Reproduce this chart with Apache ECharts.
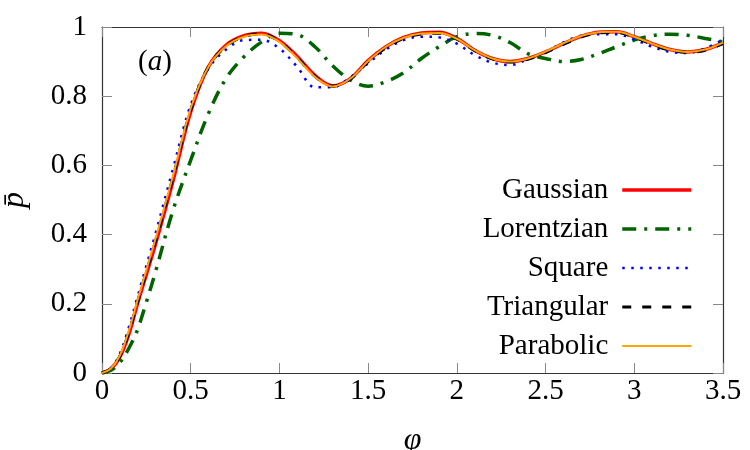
<!DOCTYPE html>
<html>
<head>
<meta charset="utf-8">
<script src="https://cdn.jsdelivr.net/npm/echarts@6/dist/echarts.min.js"></script>
<style>
  html, body { margin: 0; padding: 0; background: #fff; }
  #chart { width: 750px; height: 450px; }
</style>
</head>
<body>
<div id="chart"></div>
<script>
// phi grid (finer near the start, then step 0.1)
const phi = [0, 0.05, 0.1, 0.15, 0.2, 0.25, 0.3, 0.4, 0.5, 0.6, 0.7, 0.8, 0.9, 1.0, 1.1, 1.2, 1.3, 1.4,
  1.5, 1.6, 1.7, 1.8, 1.9, 2.0, 2.1, 2.2, 2.3, 2.4, 2.5, 2.6, 2.7, 2.8, 2.9, 3.0, 3.1, 3.2, 3.3,
  3.4, 3.5];

const gaussian = [0, 0.012, 0.045, 0.11, 0.2, 0.285, 0.37, 0.555, 0.755, 0.885, 0.948, 0.975, 0.982,
  0.96, 0.915, 0.86, 0.83, 0.851, 0.903, 0.943, 0.97, 0.983, 0.985, 0.967, 0.933, 0.909, 0.9, 0.909,
  0.928, 0.952, 0.973, 0.985, 0.986, 0.972, 0.952, 0.935, 0.928, 0.935, 0.954];

const lorentzian = [0, 0.008, 0.03, 0.07, 0.125, 0.205, 0.29, 0.47, 0.615, 0.75, 0.852, 0.914, 0.957,
  0.982, 0.978, 0.943, 0.888, 0.847, 0.829, 0.842, 0.868, 0.909, 0.943, 0.972, 0.981, 0.976, 0.955,
  0.923, 0.909, 0.9, 0.906, 0.923, 0.943, 0.962, 0.975, 0.979, 0.976, 0.967, 0.957];

const square = [0, 0.014, 0.055, 0.13, 0.22, 0.31, 0.4, 0.59, 0.775, 0.88, 0.935, 0.962, 0.963, 0.938,
  0.885, 0.826, 0.826, 0.855, 0.895, 0.935, 0.962, 0.972, 0.97, 0.952, 0.919, 0.897, 0.89, 0.907,
  0.928, 0.955, 0.975, 0.979, 0.979, 0.964, 0.943, 0.928, 0.925, 0.938, 0.964];

const triangular = [0, 0.013, 0.048, 0.115, 0.205, 0.292, 0.378, 0.565, 0.76, 0.885, 0.945, 0.972,
  0.98, 0.958, 0.912, 0.858, 0.829, 0.85, 0.9, 0.94, 0.967, 0.98, 0.982, 0.965, 0.932, 0.908, 0.899,
  0.907, 0.926, 0.95, 0.971, 0.983, 0.984, 0.97, 0.95, 0.933, 0.927, 0.933, 0.952];

const parabolic = [0, 0.013, 0.05, 0.12, 0.21, 0.298, 0.385, 0.57, 0.765, 0.885, 0.945, 0.972, 0.978,
  0.957, 0.91, 0.856, 0.828, 0.851, 0.902, 0.943, 0.969, 0.981, 0.983, 0.966, 0.933, 0.909, 0.9,
  0.909, 0.929, 0.953, 0.974, 0.985, 0.986, 0.972, 0.952, 0.935, 0.928, 0.935, 0.955];

const names = ["Gaussian", "Lorentzian", "Square", "Triangular", "Parabolic"];
const widths = [3.5, 3.5, 2.5, 3, 2];

const serif = "Liberation Serif";
const chart = echarts.init(document.getElementById("chart"), null, { renderer: "canvas" });

function pairs(arr) {
  return phi.map((x, i) => [x, arr[i]]);
}

function mkLine(idx, arr, color, type) {
  return {
    name: names[idx],
    type: "line",
    data: pairs(arr),
    symbol: "none",
    showSymbol: false,
    smooth: 0.35,
    lineStyle: { color: color, width: widths[idx], type: type },
    itemStyle: { color: color },
    emphasis: { disabled: true },
  };
}

const tickStyle = { show: true, inside: true, length: 10, lineStyle: { color: "#888", width: 1 } };
const lineStyle = { show: true, onZero: false, lineStyle: { color: "#333", width: 1.2 } };

const option = {
  animation: false,
  backgroundColor: "#fff",
  grid: { left: 102, right: 27, top: 27, bottom: 77, containLabel: false, outerBoundsMode: "none" },
  xAxis: [
    {
      type: "value",
      position: "bottom",
      min: 0,
      max: 3.5,
      interval: 0.5,
      axisLine: lineStyle,
      axisTick: tickStyle,
      splitLine: { show: false },
      axisLabel: { fontFamily: serif, fontSize: 29, color: "#000", margin: 4 },
      name: "\u03c6",
      nameLocation: "middle",
      nameGap: 52,
      nameTextStyle: { fontFamily: serif, fontStyle: "italic", fontSize: 32, color: "#000" },
    },
    {
      type: "value",
      position: "top",
      min: 0,
      max: 3.5,
      interval: 0.5,
      axisLine: lineStyle,
      axisTick: tickStyle,
      axisLabel: { show: false },
      splitLine: { show: false },
    },
  ],
  yAxis: [
    {
      type: "value",
      position: "left",
      min: 0,
      max: 1,
      interval: 0.2,
      axisLine: lineStyle,
      axisTick: tickStyle,
      splitLine: { show: false },
      axisLabel: { fontFamily: serif, fontSize: 29, color: "#000", margin: 15 },
      name: "p\u0304",
      nameLocation: "middle",
      nameRotate: 90,
      nameGap: 71,
      nameTextStyle: { fontFamily: serif, fontStyle: "italic", fontSize: 32, color: "#000" },
    },
    {
      type: "value",
      position: "right",
      min: 0,
      max: 1,
      interval: 0.2,
      axisLine: lineStyle,
      axisTick: tickStyle,
      axisLabel: { show: false },
      splitLine: { show: false },
    },
  ],
  legend: {
    data: names.map((n, i) => ({ name: n, lineStyle: { width: widths[i] } })),
    orient: "vertical",
    align: "right",
    right: 52,
    top: 170,
    itemGap: 9,
    itemWidth: 69,
    itemHeight: 14,
    selectedMode: false,
    itemStyle: { opacity: 0 },
    textStyle: {
      fontFamily: serif,
      fontSize: 29,
      lineHeight: 30,
      color: "#000",
      padding: [0, 9, 0, 0],
    },
  },
  graphic: [
    {
      type: "text",
      left: 138,
      top: 48,
      style: {
        text: "{n|(}{i|a}{n|)}",
        rich: {
          n: { fontFamily: serif, fontSize: 29, fill: "#000" },
          i: { fontFamily: serif, fontStyle: "italic", fontSize: 29, fill: "#000" },
        },
      },
    },
  ],
  series: [
    mkLine(0, gaussian, "#ff0000", "solid"),
    mkLine(1, lorentzian, "#006400", [14, 8, 3, 8]),
    mkLine(2, square, "#0000ff", [2.5, 6.5]),
    mkLine(3, triangular, "#000000", [9, 11]),
    mkLine(4, parabolic, "#ffa500", "solid"),
  ],
};

chart.setOption(option);
</script>
</body>
</html>
